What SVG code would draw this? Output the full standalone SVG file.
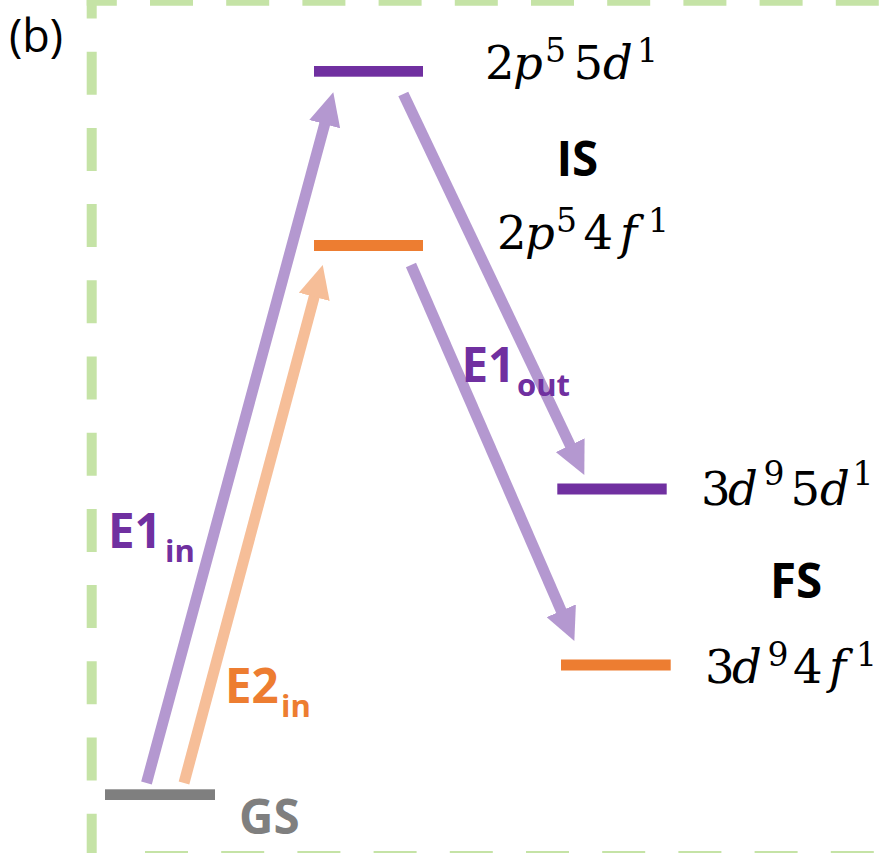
<svg xmlns="http://www.w3.org/2000/svg" width="882" height="853" viewBox="0 0 882 853">
<defs>
<marker id="ahP" markerUnits="userSpaceOnUse" markerWidth="33" markerHeight="32" viewBox="0 0 33 32" refX="2" refY="16" orient="auto"><path d="M0,0 L33,16 L0,32 z" fill="#B498D0"/></marker>
<marker id="ahO" markerUnits="userSpaceOnUse" markerWidth="33" markerHeight="32" viewBox="0 0 33 32" refX="2" refY="16" orient="auto"><path d="M0,0 L33,16 L0,32 z" fill="#F6BE98"/></marker>
</defs>
<style>
.frame{fill:none;stroke:#C5E3A6;stroke-width:10;stroke-dasharray:43 33.2}
.math{font-family:"DejaVu Serif",serif;font-size:46.5px;fill:#000}
.it{font-style:italic}
.sup{font-size:33px}
.lbl{font-family:"Open Sans","Liberation Sans",sans-serif;font-weight:bold;font-size:47.5px}
.sub{font-size:31px}
.arrP{stroke:#B498D0;stroke-width:11;fill:none;marker-end:url(#ahP)}
.arrO{stroke:#F6BE98;stroke-width:11;fill:none;marker-end:url(#ahO)}
.purple{fill:#7030A0}
.orange{fill:#ED7D31}
.grey{fill:#7F7F7F}
</style>
<rect width="882" height="853" fill="#fff"/>
<g id="frame">
<path class="frame" d="M91.7,-24.5 V870"/>
<path class="frame" d="M86.7,0.7 H900" stroke-dashoffset="12.9"/>
<path class="frame" d="M145,856 H900"/>
</g>
<text x="9" y="52" font-family="'Open Sans','Liberation Sans',sans-serif" font-size="45" fill="#000">(b)</text>
<g id="connectors">
<path class="arrP" d="M146.5,783 L325.2,122.2"/>
<path class="arrO" d="M184,783 L314.7,294.9"/>
<path class="arrP" d="M403.3,94 L571,447"/>
<path class="arrP" d="M411,265 L562,612.6"/>
<text class="lbl purple" x="108" y="548.3">E1<tspan class="sub" x="165" y="561.7">in</tspan></text>
<text class="lbl orange" x="225" y="702.7">E2<tspan class="sub" x="281" y="716.7">in</tspan></text>
<text class="lbl purple" x="461.5" y="381.7">E1<tspan class="sub" x="517" y="396">out</tspan></text>
</g>
<g id="GS">
<rect class="grey" x="105" y="789.3" width="110" height="10.7"/>
<text class="lbl grey" x="239" y="834">GS</text>
</g>
<g id="IS-2p55d1">
<rect class="purple" x="314" y="66" width="109" height="10.7"/>
<text class="math"><tspan x="485" y="79">2</tspan><tspan class="it" x="513" y="79">p</tspan><tspan class="sup" x="545" y="61.7">5</tspan><tspan x="573.5" y="79">5</tspan><tspan class="it" x="603" y="79">d</tspan><tspan class="sup" x="637" y="61.7">1</tspan></text>
</g>
<g id="IS-label">
<text class="lbl" x="556.4" y="176" fill="#000">IS</text>
</g>
<g id="IS-2p54f1">
<rect class="orange" x="314" y="240" width="109" height="11"/>
<text class="math"><tspan x="497" y="249.3">2</tspan><tspan class="it" x="525" y="249.3">p</tspan><tspan class="sup" x="556" y="231.5">5</tspan><tspan x="583.5" y="249.3">4</tspan><tspan class="it" x="620" y="249.3">f</tspan><tspan class="sup" x="648" y="231.5">1</tspan></text>
</g>
<g id="FS-3d95d1">
<rect class="purple" x="557.3" y="483.5" width="109.4" height="11"/>
<text class="math"><tspan x="701" y="505">3</tspan><tspan class="it" x="728" y="505">d</tspan><tspan class="sup" x="763.5" y="485">9</tspan><tspan x="790.5" y="505">5</tspan><tspan class="it" x="820" y="505">d</tspan><tspan class="sup" x="852.5" y="485">1</tspan></text>
</g>
<g id="FS-label">
<text class="lbl" x="770" y="598.3" fill="#000">FS</text>
</g>
<g id="FS-3d94f1">
<rect class="orange" x="561" y="659.5" width="109.7" height="11"/>
<text class="math"><tspan x="705" y="683.3">3</tspan><tspan class="it" x="732" y="683.3">d</tspan><tspan class="sup" x="767.5" y="665.5">9</tspan><tspan x="793" y="683.3">4</tspan><tspan class="it" x="829" y="683.3">f</tspan><tspan class="sup" x="856" y="665.5">1</tspan></text>
</g>
</svg>
